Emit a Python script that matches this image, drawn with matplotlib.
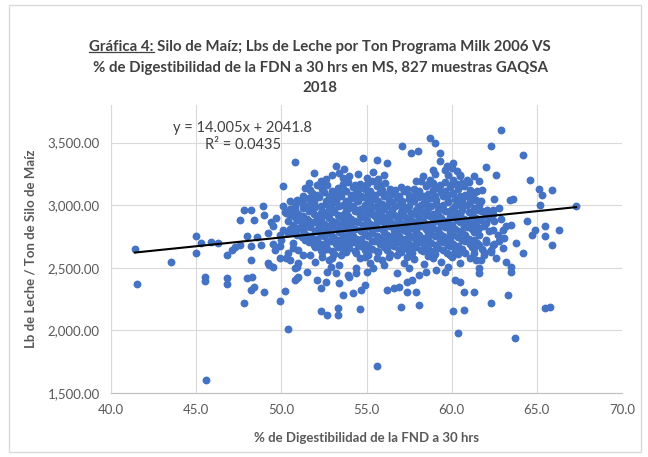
import matplotlib
matplotlib.use('Agg')
import matplotlib.pyplot as plt
from matplotlib.lines import Line2D
from matplotlib.patches import Rectangle
from matplotlib.ticker import StrMethodFormatter

plt.rcParams['font.family'] = ['Lato', 'DejaVu Sans']

# chart texts
title_lines = ['Gráfica 4: Silo de Maíz; Lbs de Leche por Ton Programa Milk 2006 VS',
               '% de Digestibilidad de la FDN a 30 hrs en MS, 827 muestras GAQSA',
               '2018']
underlined = 'Gráfica 4:'
x_label = '% de Digestibilidad de la FND a 30 hrs'
y_label = 'Lb de Leche / Ton de Silo de Maíz'

# trendline from the Excel label
slope = 14.005
intercept = 2041.8
r2 = 0.0435

x_ticks = [40, 45, 50, 55, 60, 65, 70]
y_ticks = [1500, 2000, 2500, 3000, 3500]

# points, grouped by region
left_pts = [(41.4, 2650), (41.5, 2372), (43.5, 2550), (45.0, 2618), (45.0, 2750), (45.3, 2700),
            (45.9, 2702), (46.3, 2694), (45.5, 2430), (45.5, 2398), (46.8, 2418), (46.8, 2372),
            (48.0, 2418), (48.3, 2430), (48.2, 2324), (48.4, 2350), (49.0, 2310), (47.8, 2218),
            (50.2, 2318), (49.9, 2236), (50.4, 2012), (45.6, 1604), (46.8, 2604), (47.1, 2644),
            (47.3, 2666), (48.2, 2564), (49.2, 2538), (49.3, 2524), (49.5, 2510), (49.9, 2578),
            (50.3, 2578), (50.5, 2564), (50.8, 2498), (50.9, 2418), (47.6, 2680), (48.2, 2676),
            (48.8, 2684), (49.5, 2690), (49.9, 2672), (50.7, 2660), (47.8, 2964), (48.2, 2964),
            (48.9, 2996), (47.6, 2884), (48.4, 2884), (50.1, 2996), (50.5, 2970), (49.5, 2830),
            (50.1, 2804), (50.5, 2812), (49.4, 2862), (48.0, 2750), (48.6, 2745), (49.9, 2764),
            (50.4, 2778), (50.1, 3150), (50.8, 3342), (49.0, 2920), (49.7, 2900), (50.3, 2940),
            (49.2, 2780), (50.0, 2720), (49.6, 2640), (50.4, 2620), (51.0, 2640), (50.7, 2700),
            (51.3, 2600)]

low_pts = [(55.6, 1716), (60.4, 1982), (52.3, 2158), (52.7, 2124), (53.3, 2124), (53.3, 2178),
           (54.6, 2172), (57.0, 2190), (58.1, 2204), (60.1, 2156), (60.7, 2164), (53.6, 2284),
           (54.2, 2298), (54.7, 2324), (54.9, 2364), (56.2, 2324), (56.6, 2338), (56.9, 2350),
           (57.4, 2306), (57.9, 2310), (52.1, 2404), (52.6, 2390), (52.3, 2338), (53.4, 2378),
           (53.9, 2444), (54.4, 2458), (55.0, 2470), (56.8, 2458), (57.4, 2390), (57.7, 2404),
           (58.1, 2444), (58.5, 2470), (59.1, 2484), (59.6, 2470), (60.2, 2404), (60.7, 2310),
           (50.8, 2404), (51.0, 2430), (50.9, 2510), (51.0, 2538), (51.7, 2604), (52.4, 2590),
           (52.9, 2510), (53.2, 2458), (53.4, 2524), (54.0, 2430), (54.4, 2498), (55.2, 2538),
           (55.4, 2498), (55.9, 2560), (56.3, 2590), (57.2, 2540), (57.8, 2570), (58.4, 2530),
           (58.9, 2580), (59.4, 2550), (60.0, 2590), (60.5, 2540), (56.0, 2520), (52.0, 2550),
           (53.0, 2575), (54.6, 2580), (57.5, 2500), (59.8, 2510), (51.5, 2470), (52.7, 2470),
           (60.5, 2390), (61.3, 2310), (61.6, 2458), (61.6, 2498),
           (53.5, 2600), (54.9, 2590), (56.8, 2600), (58.6, 2595), (59.9, 2605), (55.6, 2580),
           (57.4, 2585), (60.8, 2620), (61.7, 2560), (52.8, 2560)]

right_pts = [(65.9, 2684), (63.2, 2550), (63.5, 2510), (63.5, 2470), (61.3, 2618), (61.4, 2564),
             (61.1, 2578), (63.3, 2284), (62.3, 2218), (65.5, 2180), (65.8, 2185), (63.7, 1938),
             (62.9, 3598), (62.3, 3476), (64.2, 3404), (62.0, 3306), (62.6, 3244), (64.6, 3198),
             (65.1, 3130), (65.3, 3084), (65.9, 3124), (65.2, 3004), (67.3, 2990), (63.4, 3038),
             (63.6, 3050), (62.5, 3050), (62.4, 2964), (61.6, 3190), (60.9, 3204), (60.5, 3244),
             (64.4, 2870), (64.9, 2804), (64.7, 2764), (65.5, 2836), (66.3, 2804), (65.5, 2750),
             (63.2, 2830), (63.5, 2844), (63.0, 2804), (61.8, 2950), (62.2, 2900), (62.5, 2870),
             (62.9, 2890), (61.9, 2830), (62.4, 2800), (62.7, 2760), (63.1, 2740), (62.0, 2720),
             (62.5, 2690), (61.8, 2650), (62.3, 2630), (63.0, 2660), (63.8, 2700), (64.2, 2620),
             (62.6, 2580), (61.9, 2600), (61.6, 2684), (62.0, 2702), (62.4, 2684), (62.8, 2710),
             (61.9, 2630), (62.3, 2644), (61.3, 2658)]

high_pts = [(51.9, 3258), (53.2, 3310), (53.4, 3258), (53.7, 3290), (54.8, 3378), (55.6, 3364),
            (55.4, 3262), (56.2, 3338), (57.1, 3476), (57.6, 3418), (58.0, 3436), (58.7, 3538),
            (59.0, 3498), (59.3, 3418), (60.1, 3338), (59.7, 3310), (58.9, 3284), (60.5, 3230),
            (59.3, 3350), (59.6, 3280), (60.0, 3300), (60.3, 3270), (59.0, 3250), (59.8, 3240),
            (54.0, 3230), (54.5, 3250), (55.0, 3220), (56.0, 3240), (55.7, 3210), (53.6, 3215),
            (58.3, 3230), (58.7, 3205), (57.9, 3195),
            (52.6, 3210), (53.0, 3240), (60.1, 3200), (61.3, 3230), (51.6, 3180), (52.3, 3190)]

core_pts = [
    (53.9, 3186), (54.6, 3172), (55.3, 3190), (56.1, 3178), (58.2, 3192), (58.9, 3176), (59.6, 3185),
    (60.3, 3170), (61.0, 3182), (55.8, 3160),
    (51.4, 3138), (52.1, 3160), (52.7, 3162), (53.3, 3136), (54.2, 3148), (54.9, 3130), (55.6, 3152),
    (56.4, 3126), (57.0, 3144), (57.8, 3132), (58.5, 3150), (59.2, 3138), (59.9, 3146), (60.7, 3150),
    (61.5, 3112), (61.8, 3124),
    (51.8, 3094), (52.5, 3108), (53.1, 3090), (53.8, 3112), (54.4, 3098), (55.1, 3086), (55.8, 3104),
    (56.5, 3092), (57.2, 3110), (57.9, 3096), (58.6, 3088), (59.4, 3106), (60.1, 3094), (60.8, 3084),
    (61.3, 3100),
    (50.9, 3044), (51.6, 3058), (52.2, 3066), (52.9, 3052), (53.5, 3070), (54.1, 3056), (54.8, 3064),
    (55.4, 3048), (56.0, 3072), (56.8, 3058), (57.5, 3046), (58.1, 3066), (58.8, 3054), (59.5, 3070),
    (60.2, 3050), (61.0, 3062), (61.4, 3044),
    (50.5, 3030), (51.2, 3016), (51.9, 3024), (52.6, 3010), (53.2, 3028), (53.9, 3014), (54.5, 3032),
    (55.2, 3018), (55.9, 3008), (56.5, 3026), (57.1, 3012), (57.8, 3030), (58.4, 3018), (59.1, 3006),
    (59.8, 3024), (60.4, 3014), (61.1, 3028),
    (51.3, 2978), (52.0, 2984), (52.8, 2970), (53.4, 2990), (54.0, 2976), (54.7, 2966), (55.3, 2986),
    (56.0, 2972), (56.7, 2992), (57.3, 2968), (58.0, 2982), (58.6, 2974), (59.3, 2988), (60.0, 2970),
    (60.6, 2984), (61.3, 2976), (62.1, 2964), (62.8, 2978),
    (50.2, 2946), (51.0, 2932), (51.6, 2950), (52.3, 2938), (53.0, 2944), (53.7, 2928), (54.3, 2952),
    (55.0, 2936), (55.7, 2946), (56.3, 2930), (57.0, 2948), (57.6, 2934), (58.3, 2944), (58.9, 2926),
    (59.6, 2950), (60.3, 2938), (61.0, 2944), (61.7, 2950),
    (50.8, 2904), (51.5, 2892), (52.1, 2908), (52.8, 2896), (53.5, 2910), (54.1, 2890), (54.8, 2902),
    (55.5, 2914), (56.1, 2894), (56.8, 2906), (57.4, 2888), (58.1, 2900), (58.7, 2912), (59.4, 2894),
    (60.1, 2906), (60.7, 2890), (61.4, 2900),
    (50.4, 2870), (51.2, 2856), (51.9, 2862), (52.5, 2850), (53.2, 2868), (53.9, 2854), (54.5, 2864),
    (55.2, 2848), (55.8, 2872), (56.5, 2858), (57.1, 2846), (57.8, 2866), (58.5, 2852), (59.1, 2870),
    (59.8, 2856), (60.5, 2864), (61.2, 2850), (62.0, 2858),
    (51.0, 2814), (51.7, 2826), (52.4, 2810), (53.0, 2822), (53.7, 2830), (54.3, 2812), (55.0, 2824),
    (55.6, 2816), (56.3, 2830), (56.9, 2808), (57.6, 2820), (58.2, 2832), (58.9, 2814), (59.6, 2826),
    (60.2, 2810), (60.9, 2822), (61.6, 2816),
    (50.6, 2786), (51.4, 2772), (52.0, 2790), (52.7, 2776), (53.4, 2784), (54.0, 2770), (54.7, 2792),
    (55.3, 2778), (56.0, 2786), (56.6, 2768), (57.3, 2790), (57.9, 2776), (58.6, 2784), (59.3, 2770),
    (59.9, 2788), (60.6, 2774), (61.3, 2782), (62.2, 2790),
    (51.2, 2746), (51.8, 2734), (52.5, 2750), (53.1, 2738), (53.8, 2744), (54.4, 2730), (55.1, 2752),
    (55.8, 2736), (56.4, 2748), (57.1, 2732), (57.7, 2746), (58.4, 2738), (59.0, 2752), (59.7, 2734),
    (60.4, 2744), (61.0, 2730),
    (51.6, 2706), (52.3, 2692), (52.9, 2710), (53.6, 2696), (54.2, 2704), (54.9, 2688), (55.5, 2712),
    (56.2, 2698), (56.8, 2706), (57.5, 2690), (58.1, 2708), (58.8, 2694), (59.5, 2702), (60.1, 2688),
    (60.8, 2710), (61.5, 2696),
    (52.0, 2664), (52.7, 2652), (53.3, 2668), (54.0, 2656), (54.6, 2670), (55.3, 2650), (56.0, 2662),
    (56.6, 2674), (57.3, 2654), (57.9, 2666), (58.6, 2648), (59.2, 2660), (59.9, 2670), (60.6, 2652),
    (61.2, 2664),
    (52.4, 2626), (53.1, 2614), (53.8, 2630), (54.4, 2618), (55.1, 2606), (55.7, 2624), (56.4, 2612),
    (57.0, 2628), (57.7, 2616), (58.3, 2632), (59.0, 2610), (59.7, 2622), (60.4, 2614)]

core_fill = [
    (52.4, 3150), (53.6, 3168), (54.3, 3160), (55.0, 3166), (58.6, 3170), (59.3, 3158), (60.0, 3166),
    (60.6, 3176),
    (51.7, 3118), (52.4, 3126), (53.0, 3114), (53.6, 3128), (54.5, 3120), (55.2, 3112), (55.9, 3124),
    (56.7, 3118), (57.4, 3126), (58.1, 3114), (58.9, 3122), (59.6, 3116), (60.4, 3126), (61.1, 3118),
    (51.3, 3076), (52.1, 3082), (52.8, 3072), (53.4, 3086), (54.1, 3078), (54.7, 3070), (55.5, 3080),
    (56.1, 3088), (56.9, 3074), (57.5, 3084), (58.3, 3076), (59.0, 3072), (59.8, 3082), (60.5, 3070),
    (61.2, 3080),
    (51.3, 3040), (51.9, 3046), (52.6, 3036), (53.2, 3044), (53.8, 3034), (54.4, 3046), (55.1, 3038),
    (55.7, 3030), (56.3, 3044), (57.1, 3036), (57.8, 3048), (58.5, 3034), (59.1, 3042), (59.8, 3036),
    (60.6, 3040), (61.7, 3032),
    (50.8, 2996), (51.6, 3000), (52.3, 2994), (52.9, 3004), (53.6, 2998), (54.2, 2992), (54.9, 3002),
    (55.6, 2996), (56.2, 2990), (56.9, 3004), (57.5, 2994), (58.2, 3000), (58.8, 2992), (59.5, 3002),
    (60.2, 2996), (60.9, 3004), (61.6, 2998),
    (50.8, 2960), (51.7, 2966), (52.4, 2956), (53.1, 2962), (53.8, 2956), (54.5, 2964), (55.1, 2954),
    (55.8, 2966), (56.5, 2960), (57.1, 2954), (57.9, 2962), (58.5, 2956), (59.2, 2964), (59.9, 2954),
    (60.6, 2962), (61.4, 2958), (62.4, 2930),
    (50.5, 2922), (51.3, 2916), (51.9, 2926), (52.6, 2918), (53.3, 2924), (53.9, 2914), (54.6, 2920),
    (55.3, 2928), (55.9, 2916), (56.6, 2924), (57.2, 2916), (57.9, 2926), (58.5, 2918), (59.2, 2922),
    (59.9, 2914), (60.5, 2926), (61.2, 2918), (62.0, 2924),
    (50.9, 2880), (51.6, 2874), (52.3, 2884), (53.0, 2876), (53.6, 2886), (54.3, 2874), (55.0, 2882),
    (55.6, 2876), (56.3, 2886), (56.9, 2874), (57.6, 2882), (58.3, 2876), (58.9, 2886), (59.6, 2874),
    (60.3, 2882), (61.0, 2876), (61.7, 2884),
    (50.7, 2840), (51.5, 2836), (52.2, 2842), (52.8, 2832), (53.5, 2844), (54.1, 2836), (54.8, 2842),
    (55.4, 2834), (56.1, 2846), (56.7, 2836), (57.4, 2842), (58.0, 2834), (58.7, 2844), (59.4, 2838),
    (60.0, 2842), (60.7, 2834), (61.4, 2840),
    (51.3, 2798), (52.1, 2804), (52.7, 2796), (53.3, 2806), (54.0, 2798), (54.6, 2804), (55.3, 2796),
    (55.9, 2806), (56.6, 2798), (57.2, 2804), (57.9, 2794), (58.5, 2806), (59.2, 2798), (59.9, 2804),
    (60.5, 2796), (61.2, 2806),
    (50.9, 2760), (51.7, 2756), (52.3, 2764), (53.0, 2754), (53.6, 2762), (54.2, 2756), (54.9, 2766),
    (55.6, 2756), (56.2, 2762), (56.9, 2754), (57.5, 2764), (58.1, 2758), (58.8, 2766), (59.5, 2754),
    (60.1, 2762), (60.8, 2758), (61.6, 2764),
    (51.4, 2720), (52.1, 2726), (52.7, 2716), (53.4, 2724), (54.0, 2718), (54.7, 2726), (55.3, 2716),
    (56.0, 2722), (56.6, 2716), (57.3, 2726), (57.9, 2718), (58.6, 2724), (59.3, 2716), (59.9, 2724),
    (60.6, 2718), (61.3, 2724),
    (51.9, 2684), (52.6, 2676), (53.2, 2686), (53.9, 2678), (54.5, 2684), (55.1, 2676), (55.8, 2686),
    (56.5, 2678), (57.1, 2684), (57.8, 2676), (58.4, 2686), (59.1, 2678), (59.8, 2684), (60.4, 2676),
    (61.1, 2686),
    (52.3, 2640), (53.0, 2636), (53.6, 2644), (54.3, 2638), (54.9, 2646), (55.6, 2636), (56.2, 2644),
    (56.9, 2640), (57.5, 2634), (58.2, 2644), (58.9, 2638), (59.5, 2646), (60.2, 2636)]

all_pts = left_pts + low_pts + right_pts + high_pts + core_pts + core_fill
xs = [p[0] for p in all_pts]
ys = [p[1] for p in all_pts]

text_dark = '#404040'
text_gray = '#595959'
blue = '#4472C4'

fig = plt.figure(figsize=(6.48, 4.57), dpi=100)
fig.patches.append(Rectangle((9 / 648, 5 / 457), 632 / 648, 447 / 457, transform=fig.transFigure,
                             fill=False, edgecolor='#d9d9d9', lw=1))

ax = fig.add_axes([111 / 648, 1 - 393 / 457, 511 / 648, 288 / 457])
ax.scatter(xs, ys, s=32, color=blue, linewidths=0, zorder=3)

x0, x1 = min(xs), max(xs)
ax.plot([x0, x1], [slope * x0 + intercept, slope * x1 + intercept], color='black', lw=1.5, zorder=4)

ax.text(0.258, 0.92, f'y = {slope}x + {intercept}', transform=ax.transAxes, ha='center', va='center',
        fontsize=10.5, color=text_dark, zorder=5)
ax.text(0.258, 0.861, f'R² = {r2}', transform=ax.transAxes, ha='center', va='center',
        fontsize=10.5, color=text_dark, zorder=5)

ax.set_xlim(40, 70)
ax.set_ylim(1500, 3800)
ax.set_xticks(x_ticks)
ax.set_yticks(y_ticks)
ax.xaxis.set_major_formatter(StrMethodFormatter('{x:.1f}'))
ax.yaxis.set_major_formatter(StrMethodFormatter('{x:,.2f}'))
ax.tick_params(length=0, labelsize=9.5, labelcolor=text_gray, pad=8)
ax.grid(True, color='#d9d9d9', lw=0.8, zorder=0)
ax.xaxis.get_gridlines()[-1].set_visible(False)
for side in ['top', 'right']:
    ax.spines[side].set_visible(False)
ax.spines['left'].set_color('#d9d9d9')
ax.spines['bottom'].set_color('#bfbfbf')
ax.spines['left'].set_linewidth(0.8)
ax.spines['bottom'].set_linewidth(0.8)

ax.set_xlabel(x_label, fontsize=9.5, fontweight='bold', color=text_gray)
ax.set_ylabel(y_label, fontsize=9.5, fontweight='bold', color=text_gray)
ax.xaxis.set_label_coords(0.5, -0.135)
ax.yaxis.set_label_coords(-0.145, 0.5)

# title, three lines
title_y = [47, 68, 88]
title_texts = []
for line, py in zip(title_lines, title_y):
    t = fig.text(0.494, 1 - py / 457, line, ha='center', va='center', fontsize=10.8,
                 fontweight='bold', color=text_dark)
    title_texts.append(t)

fig.canvas.draw()
renderer = fig.canvas.get_renderer()
bb = title_texts[0].get_window_extent(renderer)
probe = fig.text(0, 0, underlined, fontsize=10.8, fontweight='bold')
w = probe.get_window_extent(renderer).width
probe.remove()
fig.add_artist(Line2D([bb.x0, bb.x0 + w], [bb.y0 + 2, bb.y0 + 2], transform=None,
                      color=text_dark, lw=0.9))

fig.savefig('out.png', dpi=100)
